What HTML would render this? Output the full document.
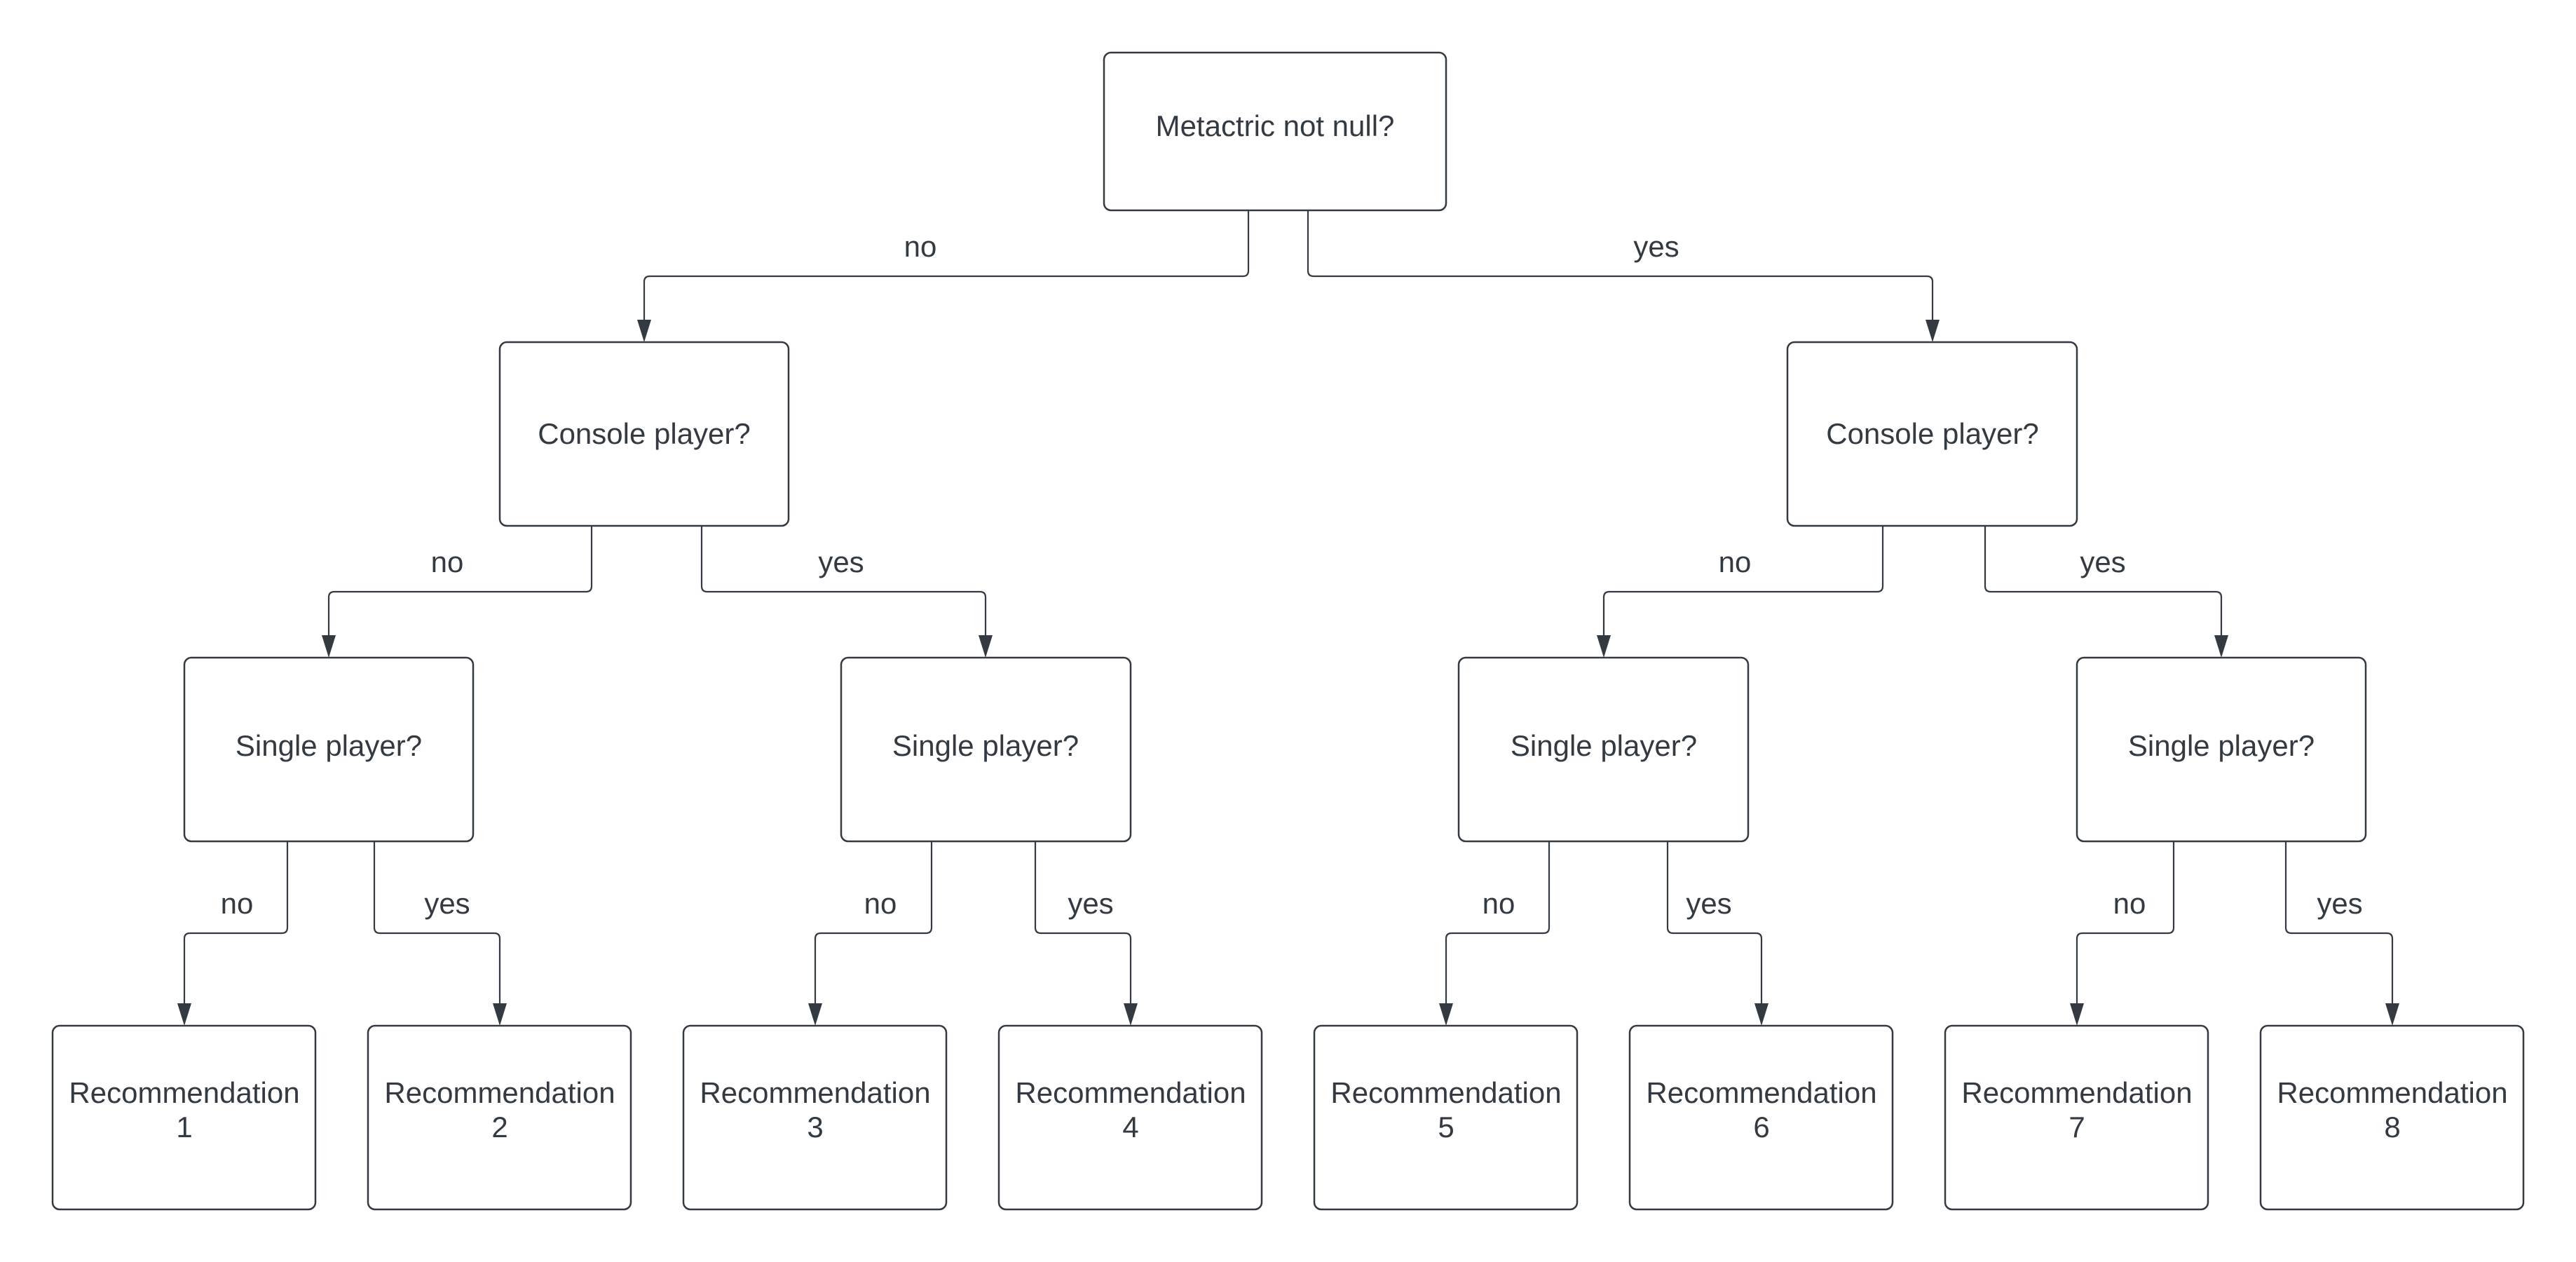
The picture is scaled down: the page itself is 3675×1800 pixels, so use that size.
<!DOCTYPE html>
<html><head><meta charset="utf-8"><style>
html,body{margin:0;padding:0;background:#fff;}
svg{display:block;}
text{font-family:"Liberation Sans",sans-serif;fill:#333a42;font-size:42px;text-anchor:middle;}
</style></head><body>
<svg width="3675" height="1800" viewBox="0 0 3675 1800" xmlns="http://www.w3.org/2000/svg">
<g fill="none" stroke="#333a42" stroke-width="2.5">
<rect x="1575" y="75" width="488" height="225" rx="10"/>
<rect x="713" y="488" width="412" height="262" rx="10"/>
<rect x="2550" y="488" width="413" height="262" rx="10"/>
<rect x="263" y="938" width="412" height="262" rx="10"/>
<rect x="1200" y="938" width="413" height="262" rx="10"/>
<rect x="2081" y="938" width="413" height="262" rx="10"/>
<rect x="2963" y="938" width="412" height="262" rx="10"/>
<rect x="75" y="1463" width="375" height="262" rx="10"/>
<rect x="525" y="1463" width="375" height="262" rx="10"/>
<rect x="975" y="1463" width="375" height="262" rx="10"/>
<rect x="1425" y="1463" width="375" height="262" rx="10"/>
<rect x="1875" y="1463" width="375" height="262" rx="10"/>
<rect x="2325" y="1463" width="375" height="262" rx="10"/>
<rect x="2775" y="1463" width="375" height="262" rx="10"/>
<rect x="3225" y="1463" width="375" height="262" rx="10"/>
</g>
<g fill="none" stroke="#333a42" stroke-width="2.2" stroke-linejoin="round">
<path d="M1781,300 V386 Q1781,394 1773,394 H927 Q919,394 919,402 V458"/>
<path d="M1866,300 V386 Q1866,394 1874,394 H2749 Q2757,394 2757,402 V458"/>
<path d="M844,750 V836 Q844,844 836,844 H477 Q469,844 469,852 V908"/>
<path d="M1001,750 V836 Q1001,844 1009,844 H1398 Q1406,844 1406,852 V908"/>
<path d="M2686,750 V836 Q2686,844 2678,844 H2296 Q2288,844 2288,852 V908"/>
<path d="M2832,750 V836 Q2832,844 2840,844 H3161 Q3169,844 3169,852 V908"/>
<path d="M410,1200 V1323 Q410,1331 402,1331 H271 Q263,1331 263,1339 V1433"/>
<path d="M534,1200 V1323 Q534,1331 542,1331 H705 Q713,1331 713,1339 V1433"/>
<path d="M1329,1200 V1323 Q1329,1331 1321,1331 H1171 Q1163,1331 1163,1339 V1433"/>
<path d="M1477,1200 V1323 Q1477,1331 1485,1331 H1605 Q1613,1331 1613,1339 V1433"/>
<path d="M2210,1200 V1323 Q2210,1331 2202,1331 H2071 Q2063,1331 2063,1339 V1433"/>
<path d="M2379,1200 V1323 Q2379,1331 2387,1331 H2505 Q2513,1331 2513,1339 V1433"/>
<path d="M3101,1200 V1323 Q3101,1331 3093,1331 H2971 Q2963,1331 2963,1339 V1433"/>
<path d="M3261,1200 V1323 Q3261,1331 3269,1331 H3405 Q3413,1331 3413,1339 V1433"/>
</g>
<g fill="#333a42">
<path d="M909,456 h20 l-10,32z"/><path d="M2747,456 h20 l-10,32z"/>
<path d="M459,906 h20 l-10,32z"/><path d="M1396,906 h20 l-10,32z"/>
<path d="M2278,906 h20 l-10,32z"/><path d="M3159,906 h20 l-10,32z"/>
<path d="M253,1431 h20 l-10,32z"/><path d="M703,1431 h20 l-10,32z"/>
<path d="M1153,1431 h20 l-10,32z"/><path d="M1603,1431 h20 l-10,32z"/>
<path d="M2053,1431 h20 l-10,32z"/><path d="M2503,1431 h20 l-10,32z"/>
<path d="M2953,1431 h20 l-10,32z"/><path d="M3403,1431 h20 l-10,32z"/>
</g>
<text x="1819" y="194">Metactric not null?</text>
<text x="919" y="633">Console player?</text>
<text x="2757" y="633">Console player?</text>
<text x="469" y="1078">Single player?</text>
<text x="1406" y="1078">Single player?</text>
<text x="2288" y="1078">Single player?</text>
<text x="3169" y="1078">Single player?</text>
<text x="263" y="1573">Recommendation</text><text x="263" y="1622">1</text>
<text x="713" y="1573">Recommendation</text><text x="713" y="1622">2</text>
<text x="1163" y="1573">Recommendation</text><text x="1163" y="1622">3</text>
<text x="1613" y="1573">Recommendation</text><text x="1613" y="1622">4</text>
<text x="2063" y="1573">Recommendation</text><text x="2063" y="1622">5</text>
<text x="2513" y="1573">Recommendation</text><text x="2513" y="1622">6</text>
<text x="2963" y="1573">Recommendation</text><text x="2963" y="1622">7</text>
<text x="3413" y="1573">Recommendation</text><text x="3413" y="1622">8</text>
<text x="1313" y="366">no</text>
<text x="2363" y="366">yes</text>
<text x="638" y="816">no</text>
<text x="1200" y="816">yes</text>
<text x="2475" y="816">no</text>
<text x="3000" y="816">yes</text>
<text x="338" y="1303">no</text>
<text x="638" y="1303">yes</text>
<text x="1256" y="1303">no</text>
<text x="1556" y="1303">yes</text>
<text x="2138" y="1303">no</text>
<text x="2438" y="1303">yes</text>
<text x="3038" y="1303">no</text>
<text x="3338" y="1303">yes</text>
</svg>
</body></html>
